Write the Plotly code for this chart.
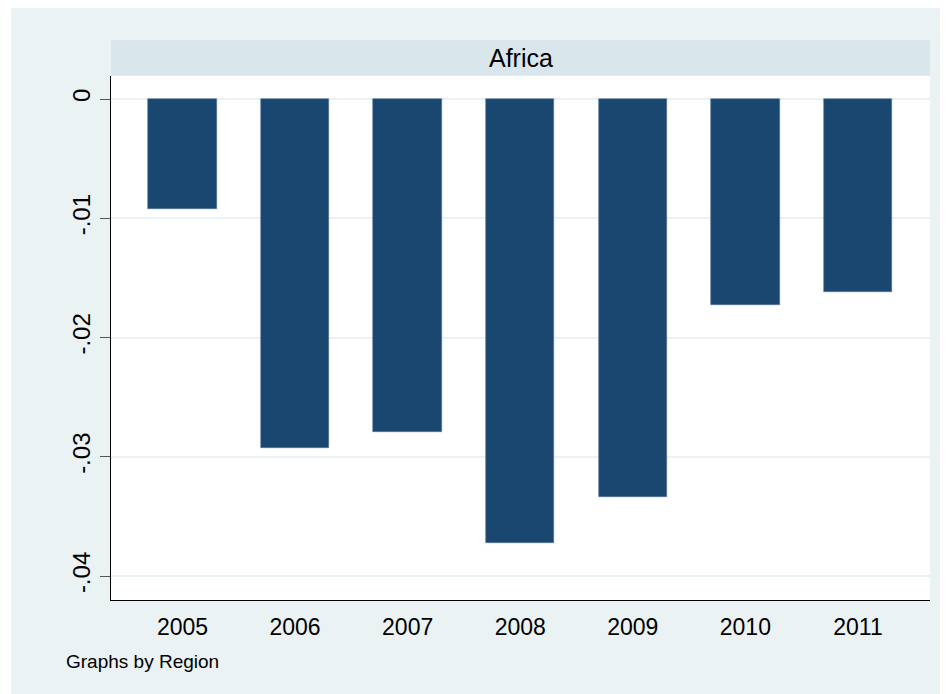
import plotly.graph_objects as go

years = ["2005", "2006", "2007", "2008", "2009", "2010", "2011"]
values = [-0.00922, -0.02929, -0.02790, -0.03726, -0.03340, -0.01725, -0.01621]
ytick_vals = [0, -0.01, -0.02, -0.03, -0.04]
ytick_text = ["0", "-.01", "-.02", "-.03", "-.04"]
region = "Africa"
note = "Graphs by Region"

W, H = 948, 694
OFF = 8  # page body margin
L, R, T, B = 111 - OFF, 930 - OFF, 76 - OFF, 600 - OFF

def px(x):
    return (x - OFF - L) / (R - L)

def py(y):
    return (B - (y - OFF)) / (B - T)

fig = go.Figure()
fig.add_trace(go.Bar(
    x=years, y=values, width=0.608,
    marker=dict(color="#1A476F", line=dict(width=0.6, color="#56769a")),
    hoverinfo="x+y",
))

fig.update_layout(
    width=W, height=H,
    margin=dict(l=L, r=W - R, t=T, b=H - B, pad=0),
    paper_bgcolor="white",
    plot_bgcolor="white",
    showlegend=False,
    bargap=0,
    font=dict(family="Liberation Sans, Arial, sans-serif", color="black"),
    xaxis=dict(
        type="category", range=[-0.635, 6.64],
        showline=True, linecolor="black", linewidth=1.3,
        showgrid=False, ticks="", zeroline=False,
        tickfont=dict(size=23, color="black"),
        ticklabelstandoff=6,
    ),
    yaxis=dict(
        range=[-0.04201, 0.00193],
        tickvals=ytick_vals, ticktext=ytick_text,
        tickangle=-90,
        showline=True, linecolor="black", linewidth=1.3,
        showgrid=True, gridcolor="#EAF2F3", gridwidth=2,
        zeroline=False,
        ticks="outside", ticklen=10, tickwidth=1.3, tickcolor="#555555",
        tickfont=dict(size=24, color="black"),
        ticklabelstandoff=0,
    ),
    shapes=[
        dict(type="rect", xref="paper", yref="paper",
             x0=px(11), x1=px(960), y0=py(710), y1=py(7),
             fillcolor="#EAF2F3", line=dict(width=0), layer="below"),
        dict(type="rect", xref="paper", yref="paper",
             x0=px(111), x1=px(930), y0=py(75.5), y1=py(40),
             fillcolor="#D9E6EB", line=dict(width=0), layer="below"),
        dict(type="rect", xref="paper", yref="paper",
             x0=0, x1=1, y0=0, y1=1,
             fillcolor="white", line=dict(width=0), layer="below"),
    ],
    annotations=[
        dict(text=region, xref="paper", yref="paper",
             x=0.5, y=py(57.5), xanchor="center", yanchor="middle",
             showarrow=False, font=dict(size=25, color="black")),
        dict(text=note, xref="paper", yref="paper",
             x=px(64), y=py(661), xanchor="left", yanchor="middle",
             showarrow=False, font=dict(size=19, color="black")),
    ],
)

fig.write_html("out.html")
